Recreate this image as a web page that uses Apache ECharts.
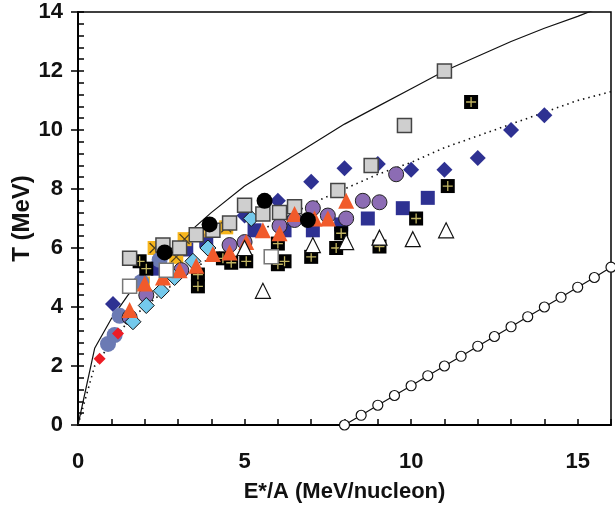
<!DOCTYPE html>
<html>
<head>
<meta charset="utf-8">
<title>T vs E*/A</title>
<script src="https://cdn.jsdelivr.net/npm/echarts@6/dist/echarts.min.js"></script>
<style>
  html, body { margin: 0; padding: 0; background: #fff; }
  #chartId { width: 615px; height: 512px; }
</style>
</head>
<body>
<div id="chartId"></div>
<script>
// curves
const solidLine = [[0, 0], [0.5, 2.6], [1, 3.6], [1.5, 4.4], [2, 5.1], [3, 6.2], [4, 7.2], [5, 8.1],
  [6, 8.8], [7, 9.5], [8, 10.2], [9, 10.8], [10, 11.4], [11, 12.0], [12, 12.5], [13, 13.0], [14, 13.45], [15, 13.85], [16, 14.3]];
const dottedLine = [[0, 0], [0.5, 2.0], [1, 2.8], [1.5, 3.5], [2, 4.0], [3, 4.9], [4, 5.7], [5, 6.3], [6, 6.9],
  [7, 7.5], [8, 8.0], [9, 8.5], [10, 8.9], [11, 9.4], [12, 9.8], [13, 10.2], [14, 10.6], [15, 11.0], [16, 11.3]];
const openCircleLine = [[8, 0], [8.5, 0.33], [9, 0.67], [9.5, 1.0], [10, 1.33], [10.5, 1.67], [11, 2.0], [11.5, 2.33],
  [12, 2.67], [12.5, 3.0], [13, 3.33], [13.5, 3.67], [14, 4.0], [14.5, 4.33], [15, 4.67], [15.5, 5.0], [16, 5.35]];

// data sets
const navyDiamonds = [[1.05, 4.1], [5, 7.1], [6, 7.6], [7, 8.25], [8, 8.7], [9, 8.85], [10, 8.65], [11, 8.65], [12, 9.05], [13, 10.0], [14, 10.5]];
const navySquares = [[2.4, 5.3], [3.25, 5.95], [3.85, 6.25], [5.3, 6.6], [6.2, 6.6], [7.05, 6.6], [7.9, 6.8], [8.7, 7.0], [9.75, 7.35], [10.5, 7.7]];
const yellowX = [[1.95, 4.8], [2.3, 6.0], [2.95, 5.7], [3.2, 6.3], [4.0, 6.6], [4.45, 6.7]];
const slateCircles = [[0.9, 2.75], [1.1, 3.05], [1.25, 3.7], [1.9, 4.85], [2.45, 5.6]];
const purpleCircles = [[1.55, 3.65], [2.05, 4.4], [3.1, 5.25], [4.55, 6.1], [5.0, 6.2], [6.05, 6.75], [6.5, 6.95],
  [7.05, 7.35], [7.5, 7.1], [8.05, 7.0], [8.55, 7.6], [9.05, 7.55], [9.55, 8.5]];
const blackPlus = [[1.85, 5.55], [2.05, 5.3], [3.6, 5.1], [3.6, 4.7], [4.35, 5.65], [4.6, 5.5], [5.05, 5.55], [6.0, 6.15],
  [6.0, 5.45], [6.2, 5.55], [7.0, 5.7], [7.75, 6.0], [7.9, 6.5], [9.05, 6.05], [10.15, 7.0], [11.1, 8.1], [11.8, 10.95]];
const lightBlueDiamonds = [[1.65, 3.5], [2.05, 4.05], [2.5, 4.55], [2.9, 5.0], [3.45, 5.55], [3.9, 6.0], [5.2, 7.0]];
const graySquares = [[1.55, 5.65], [2.55, 6.1], [3.05, 6.0], [3.55, 6.45], [4.05, 6.6], [4.55, 6.85], [5.0, 7.45],
  [5.55, 7.15], [6.05, 7.2], [6.5, 7.4], [7.8, 7.95], [8.8, 8.8], [9.8, 10.15], [11.0, 12.0]];
const orangeTriangles = [[1.55, 3.9], [2.0, 4.8], [2.55, 5.0], [3.05, 5.25], [3.55, 5.4], [4.05, 5.8], [4.55, 5.85],
  [5.05, 6.2], [5.55, 6.6], [6.05, 6.5], [6.5, 7.15], [7.1, 7.0], [7.5, 7.0], [8.05, 7.6]];
const openSquares = [[1.55, 4.7], [2.65, 5.25], [5.8, 5.7]];
const openTriangles = [[5.0, 6.0], [5.55, 4.55], [7.05, 6.1], [8.05, 6.2], [9.05, 6.35], [10.05, 6.3], [11.05, 6.6]];
const blackCircles = [[2.6, 5.85], [3.95, 6.8], [5.6, 7.6], [6.9, 6.95]];
const redDiamonds = [[0.65, 2.25], [1.2, 3.1]];

const xTicks = [0, 5, 10, 15];
const yTicks = [0, 2, 4, 6, 8, 10, 12, 14];

const FONT = '"Liberation Sans", Arial, sans-serif';

function dots(data, symbol, size, fill, border, bw) {
  return {
    type: 'scatter', data: data, symbol: symbol, symbolSize: size,
    itemStyle: {color: fill, borderColor: border || fill, borderWidth: bw || 0, opacity: 1},
    emphasis: {disabled: true}
  };
}

let chart = echarts.init(document.getElementById('chartId'));
chart.setOption({
  animation: false,
  grid: {left: 78, right: 4, top: 12, bottom: 87, outerBoundsMode: 'none', containLabel: false,
    show: true, borderColor: '#000', borderWidth: 1.5},
  xAxis: {
    type: 'value', min: 0, max: 16, interval: 5,
    axisLine: {lineStyle: {color: '#000', width: 2}},
    axisTick: {inside: true, length: 6, lineStyle: {color: '#000', width: 1.5}},
    minorTick: {show: true, splitNumber: 5, length: 6, lineStyle: {color: '#000', width: 1.5}},
    splitLine: {show: false},
    axisLabel: {
      margin: 26, color: '#111', fontFamily: FONT, fontWeight: 'bold', fontSize: 22,
      formatter: v => xTicks.indexOf(v) >= 0 ? String(v) : ''
    },
    name: 'E*/A (MeV/nucleon)', nameLocation: 'middle', nameGap: 56, nameMoveOverlap: false,
    nameTextStyle: {color: '#111', fontFamily: FONT, fontWeight: 'bold', fontSize: 22}
  },
  yAxis: [{
    type: 'value', min: 0, max: 14, interval: 2,
    axisLine: {lineStyle: {color: '#000', width: 2}},
    axisTick: {inside: true, length: 6, lineStyle: {color: '#000', width: 1.5}},
    minorTick: {show: true, splitNumber: 5, length: 6, lineStyle: {color: '#000', width: 1.5}},
    splitLine: {show: false},
    axisLabel: {
      margin: 15, color: '#111', fontFamily: FONT, fontWeight: 'bold', fontSize: 22,
      formatter: v => yTicks.indexOf(v) >= 0 ? String(v) : ''
    },
    name: 'T (MeV)', nameLocation: 'middle', nameGap: 44, nameRotate: 90, nameMoveOverlap: false,
    nameTextStyle: {color: '#111', fontFamily: FONT, fontWeight: 'bold', fontSize: 24}
  }, {
    type: 'value', min: 0, max: 14, interval: 2, position: 'left',
    axisLine: {show: false}, axisLabel: {show: false}, splitLine: {show: false},
    axisTick: {show: true, inside: false, length: 7, lineStyle: {color: '#000', width: 1.5}}
  }],
  series: [
    {type: 'line', data: solidLine, symbol: 'none', lineStyle: {color: '#111', width: 1.2}, z: 1},
    {type: 'line', data: dottedLine, symbol: 'none', lineStyle: {color: '#111', width: 1.6, type: [1.5, 4]}, z: 1},
    {type: 'line', data: openCircleLine, symbol: 'circle', symbolSize: 10,
      lineStyle: {color: '#111', width: 1.2},
      itemStyle: {color: '#fff', borderColor: '#111', borderWidth: 1.2}, z: 2},
    dots(navyDiamonds, 'diamond', 16, '#2e3192'),
    dots(navySquares, 'rect', 14, '#2e3192'),
    dots(yellowX, 'rect', 14, '#f7b51c'),
    {type: 'scatter', data: yellowX, symbol: 'path://M0,0L10,10M10,0L0,10', symbolSize: 10,
      itemStyle: {color: 'none', borderColor: '#222', borderWidth: 1.3}},
    dots(slateCircles, 'circle', 16, '#6b7ab4'),
    dots(purpleCircles, 'circle', 15, '#8c6cb4', '#222', 1),
    dots(blackPlus, 'rect', 14, '#000'),
    {type: 'scatter', data: blackPlus, symbol: 'path://M5,0L5,10M0,5L10,5', symbolSize: 10,
      itemStyle: {color: 'none', borderColor: '#f3e27a', borderWidth: 1.3}},
    dots(lightBlueDiamonds, 'diamond', 16, '#74c9ec', '#111', 1),
    dots(graySquares, 'rect', 14, '#cfcfcf', '#444', 1.5),
    dots(orangeTriangles, 'triangle', 16, '#f15a2b'),
    dots(openSquares, 'rect', 14, '#fff', '#777', 1.5),
    dots(openTriangles, 'triangle', 15, '#fff', '#111', 1.2),
    dots(blackCircles, 'circle', 16, '#000'),
    dots(redDiamonds, 'diamond', 12, '#ed1c24')
  ]
});
</script>
</body>
</html>
